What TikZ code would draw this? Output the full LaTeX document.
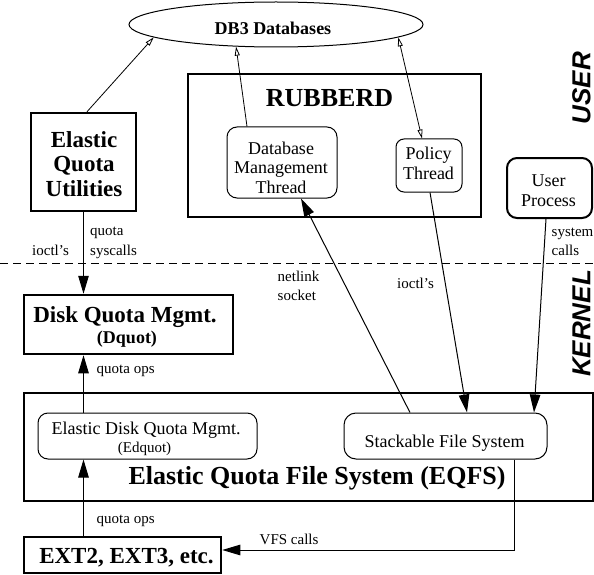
\documentclass[tikz,border=0pt]{standalone}
\usepackage{fontspec}
\setmainfont{Liberation Serif}
\setsansfont{Liberation Sans}
\usetikzlibrary{arrows.meta,shapes.geometric,calc}
\begin{document}
\begin{tikzpicture}[x=1pt,y=-1pt,
  thickbox/.style={draw,line width=2.5pt,inner sep=0pt},
  roundbox/.style={draw,line width=1pt,rounded corners=10pt,inner sep=0pt},
  txt/.style={inner sep=0pt,anchor=base},
  bigb/.style={txt,font=\fontsize{23}{26}\selectfont\bfseries},
  hugeb/.style={txt,font=\fontsize{26}{30}\selectfont\bfseries},
  mid/.style={txt,font=\fontsize{18}{20}\selectfont},
  lbl/.style={txt,anchor=base west,font=\fontsize{15}{17}\selectfont},
  side/.style={inner sep=0pt,rotate=90,font=\fontsize{26}{30}\selectfont\sffamily\bfseries\itshape},
  arr/.style={line width=1pt,-{Triangle[length=18pt,width=10.5pt]}},
  otip/.style={line width=0.8pt},
]
\useasboundingbox (0,0) rectangle (594,575);
\clip (0,0) rectangle (594,575);

% dashed user/kernel boundary
\coordinate (dl) at (0,263);
\coordinate (dr) at (594,263);
\draw[line width=1pt,dash pattern=on 8pt off 5pt] (dl) -- (dr);

% database ellipse
\node[ellipse,draw,line width=1pt,minimum width=294pt,minimum height=45pt,inner sep=0pt] (db) at (276,24.5) {};
\node[txt,font=\fontsize{18}{20}\selectfont\bfseries] (dbt) at (273,35) {DB3 Databases};

% elastic quota utilities
\node[thickbox,minimum width=105pt,minimum height=98pt] (equ) at (83.5,162) {};
\node[bigb] (equ1) at (84,147) {Elastic};
\node[bigb] (equ2) at (84,171) {Quota};
\node[bigb] (equ3) at (84,196) {Utilities};

% rubberd
\node[thickbox,minimum width=293pt,minimum height=143pt] (rub) at (334.5,145.5) {};
\node[hugeb] (rubt) at (329.5,107) {RUBBERD};
\node[roundbox,minimum width=110pt,minimum height=71pt] (dmt) at (282,162.5) {};
\node[mid] (dmt1) at (281,154) {Database};
\node[mid] (dmt2) at (281,173.5) {Management};
\node[mid] (dmt3) at (281,193) {Thread};
\node[roundbox,rounded corners=8pt,minimum width=66pt,minimum height=53pt] (pol) at (429,165.5) {};
\node[mid] (pol1) at (428.5,160) {Policy};
\node[mid] (pol2) at (428.5,179) {Thread};

% user process
\node[draw,line width=2pt,rounded corners=10pt,inner sep=0pt,minimum width=85pt,minimum height=60pt] (up) at (549.5,188) {};
\node[mid] (up1) at (548.5,186) {User};
\node[mid] (up2) at (548.5,206) {Process};

% side labels
\node[side] (user) at (581.5,88) {USER};
\node[side] (kern) at (581.5,323.5) {KERNEL};

% disk quota mgmt
\node[thickbox,minimum width=209pt,minimum height=59pt] (dquot) at (128.5,324.5) {};
\node[txt,font=\fontsize{23}{26}\selectfont\bfseries] (dq1) at (125,322) {Disk Quota Mgmt.};
\node[txt,font=\fontsize{18}{20}\selectfont\bfseries] (dq2) at (127,343) {(Dquot)};

% EQFS
\node[thickbox,minimum width=569pt,minimum height=108pt] (eqfs) at (308.5,447) {};
\node[hugeb] (eqfst) at (317,484) {Elastic Quota File System (EQFS)};
\node[roundbox,minimum width=219pt,minimum height=46pt] (edq) at (147.5,436) {};
\node[mid] (edq1) at (146,434) {Elastic Disk Quota Mgmt.};
\node[txt,font=\fontsize{15}{17}\selectfont] (edq2) at (144.5,452) {(Edquot)};
\node[roundbox,rounded corners=12pt,minimum width=203pt,minimum height=46pt] (sfs) at (445.5,436) {};
\node[mid] (sfst) at (444.5,447) {Stackable File System};

% EXT2
\node[thickbox,minimum width=197pt,minimum height=36pt] (ext) at (122.5,555) {};
\node[bigb] (extt) at (126.5,563) {EXT2, EXT3, etc.};

% labels
\node[lbl] (l1) at (90,235.5) {quota};
\node[lbl] (l2) at (90,255.5) {syscalls};
\node[lbl] (l3) at (32,255.5) {ioctl's};
\node[lbl] (l4) at (96.5,373.5) {quota ops};
\node[lbl] (l5) at (96.5,523.5) {quota ops};
\node[lbl] (l6) at (277.5,281.5) {netlink};
\node[lbl] (l7) at (277.5,300.5) {socket};
\node[lbl] (l8) at (397,288.5) {ioctl's};
\node[lbl] (l9) at (551.5,236.5) {system};
\node[lbl] (l10) at (551.5,255.5) {calls};
\node[lbl] (l11) at (259.5,544) {VFS calls};

% connectors to database
\draw[otip,-{Triangle[open,length=9pt,width=5pt]}] ([xshift=3.5pt]equ.north) -- (db.186);
\draw[otip,-{Triangle[open,length=9pt,width=5pt]}] ([xshift=-35pt]dmt.north) -- (db.209);
\draw[otip,{Triangle[open,length=9pt,width=5pt]}-{Triangle[open,length=9pt,width=5pt]}] (db.354) -- ([xshift=-7pt]pol.north);

% kernel connectors
\draw[arr] (equ.south) -- (equ.south |- dquot.north);
\draw[arr] (equ.south |- edq.north) -- (equ.south |- dquot.south);
\draw[arr] (equ.south |- ext.north) -- (equ.south |- edq.south);
\draw[arr] ([xshift=-35.5pt]sfs.north) -- ([xshift=19pt]dmt.south);
\draw[arr] ([xshift=1pt]pol.south) -- ([xshift=21.5pt]sfs.north);
\draw[arr] ([xshift=-3.5pt]up.south) -- ([xshift=88.5pt]sfs.north);
\draw[arr] ([xshift=68.5pt]sfs.south) |- ([yshift=5pt]ext.east);
\end{tikzpicture}
\end{document}
